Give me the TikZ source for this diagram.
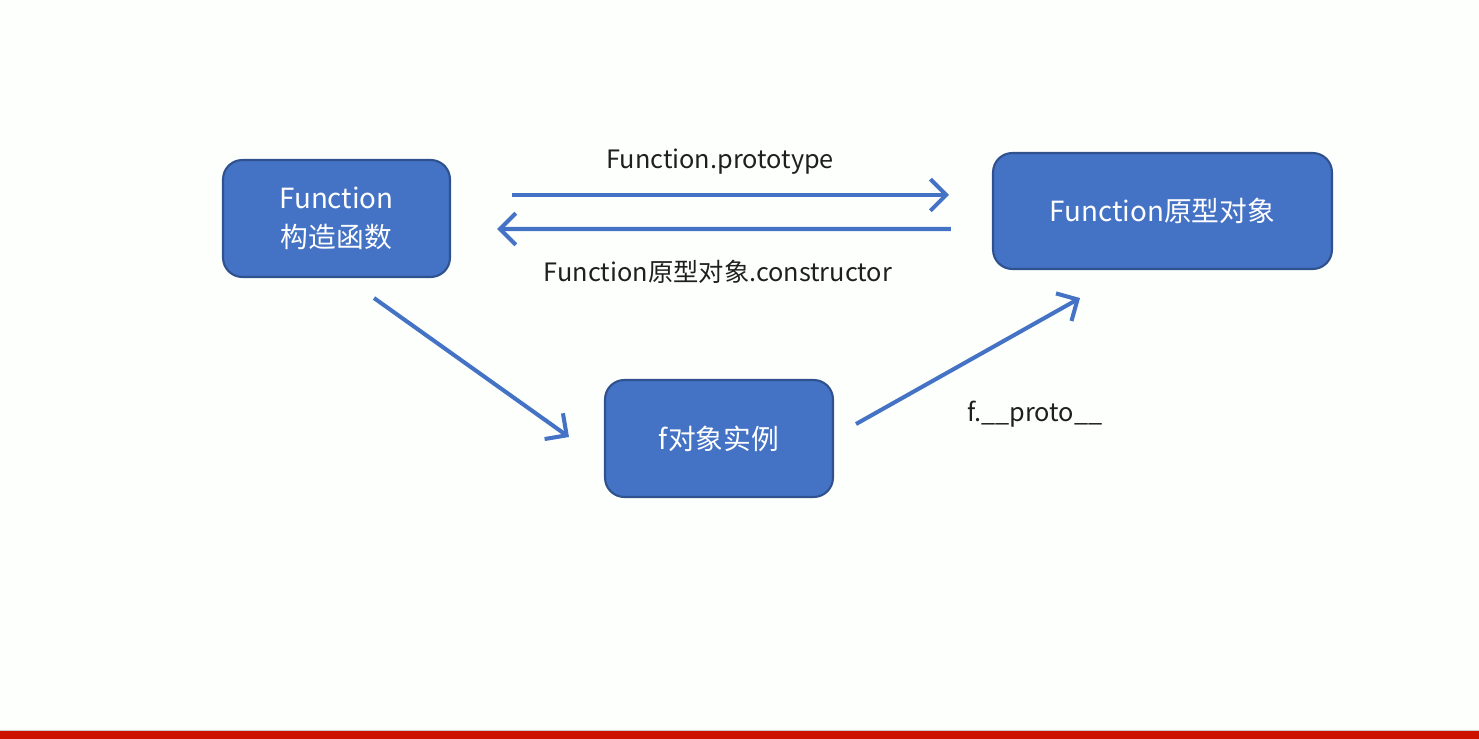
\documentclass[tikz,border=0pt]{standalone}
\usepackage{fontspec}
\usepackage{xcolor}
\usetikzlibrary{calc,arrows.meta}
\newfontfamily\cjk{Noto Sans CJK SC}

\definecolor{boxblue}{HTML}{4472C4}
\definecolor{boxedge}{HTML}{2F528F}
\definecolor{barred}{HTML}{CC1100}

\tikzset{
  objbox/.style={draw=boxedge, line width=1.2pt, fill=boxblue, rounded corners=11pt,
    text=white, font=\cjk\fontsize{15.8}{22}\selectfont, align=center, inner sep=0pt},
  link/.style={draw=boxblue, line width=2.3pt,
    -{Straight Barb[length=9pt,width=18pt,line width=2.3pt]}},
  linklabel/.style={font=\cjk\fontsize{14.4}{17}\selectfont, text=black!88, inner sep=0pt}
}

\begin{document}
\begin{tikzpicture}[x=0.02cm,y=0.02cm]

% Page
\fill[white!97!green!20] (0,0) rectangle (1479,-739);
\useasboundingbox (0,0) rectangle (1479,-739);

% Bottom bar
\fill[barred] (0,-731) rectangle (1479,-739);
\draw[gray!40, line width=0.4pt] (0,-730.5) -- (1479,-730.5);

% Boxes
\node[objbox, minimum width=4.54cm, minimum height=2.34cm] (ctor) at (336.5,-218.5)
  {Function\\构造函数};
\node[objbox, minimum width=6.78cm, minimum height=2.32cm] (proto) at (1162.5,-211)
  {Function原型对象};
\node[objbox, minimum width=4.56cm, minimum height=2.34cm] (inst) at (719,-438.5)
  {f对象实例};

% Arrows
\draw[link] ($(ctor.east)+(61,23.5)$) -- ($(proto.west)+(-43,16)$);
\draw[link] ($(proto.west)+(-41,-18)$) -- ($(ctor.east)+(46,-10.5)$);
\draw[link] ($(ctor.south)+(37.5,-20)$) -- ($(inst.west)+(-35,1.5)$);
\draw[link] ($(inst.east)+(22,14.5)$) -- ($(proto.south)+(-82.5,-28)$);

% Labels
\node[linklabel] (lproto) at (720,-162) {Function.prototype};
\node[linklabel] (lctor) at (718,-272) {Function原型对象.constructor};
\node[linklabel] (lfproto) at (1035,-414) {f.\_\_proto\_\_};

\end{tikzpicture}
\end{document}
